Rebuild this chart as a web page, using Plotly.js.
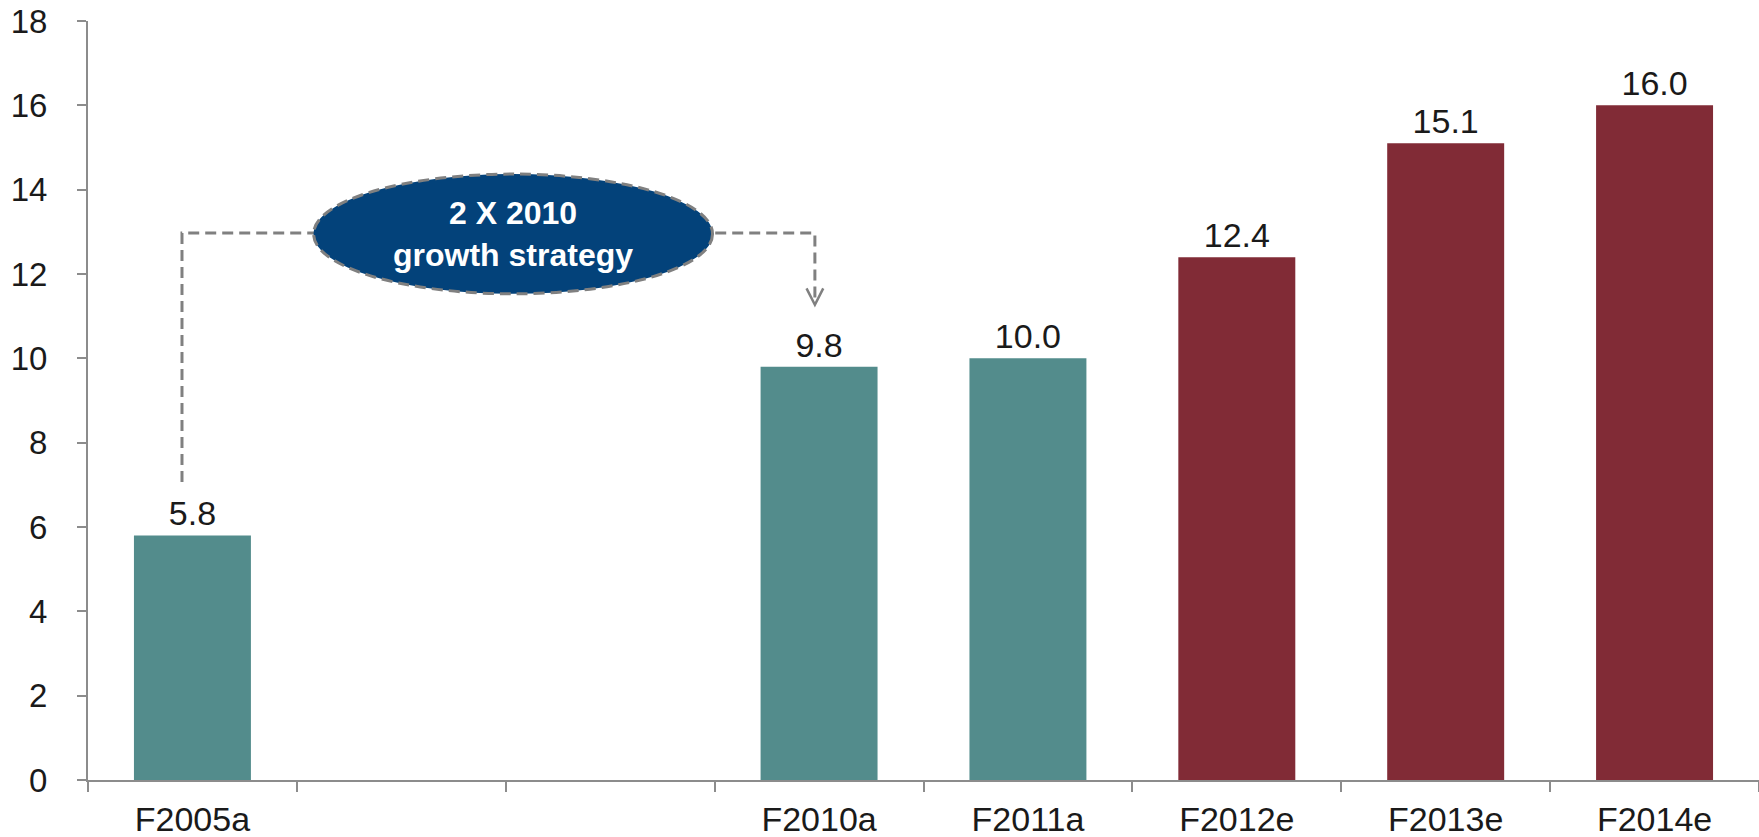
<!DOCTYPE html>
<html>
<head>
<meta charset="utf-8">
<script src="https://cdn.plot.ly/plotly-3.0.1.min.js"></script>
<style>
  html, body { margin: 0; padding: 0; background: #fff; }
  #chart { width: 1759px; height: 837px; }
</style>
</head>
<body>
<div id="chart"></div>
<script>
// categories (two blank slots between 2005 and 2010)
const categories = ['F2005a', ' ', '  ', 'F2010a', 'F2011a', 'F2012e', 'F2013e', 'F2014e'];

// actuals
const actualCats = ['F2005a', 'F2010a', 'F2011a'];
const actualVals = [5.8, 9.8, 10.0];

// estimates
const estimateCats = ['F2012e', 'F2013e', 'F2014e'];
const estimateVals = [12.4, 15.1, 16.0];

const calloutText = '<b>2 X 2010</b><br><b>growth strategy</b>';

const font = 'Arial, "Liberation Sans", sans-serif';
const axisGray = '#8c8c8c';

const actualTrace = {
    type: 'bar',
    x: actualCats,
    y: actualVals,
    marker: { color: '#538c8c' },
    text: actualVals.map(v => v.toFixed(1)),
    textposition: 'outside',
    textfont: { family: font, size: 34, color: '#1a1a1a' },
    cliponaxis: false,
    hoverinfo: 'x+y'
};

const estimateTrace = {
    type: 'bar',
    x: estimateCats,
    y: estimateVals,
    marker: { color: '#812b36' },
    text: estimateVals.map(v => v.toFixed(1)),
    textposition: 'outside',
    textfont: { family: font, size: 34, color: '#1a1a1a' },
    cliponaxis: false,
    hoverinfo: 'x+y'
};

// callout: dashed connector + ellipse + open arrow
const dash = { color: '#808080', width: 3, dash: '11px,6px' };
const shapes = [
    {
        type: 'path', xref: 'x', yref: 'y', layer: 'above',
        path: 'M -0.05,7.07 L -0.05,12.97 L 2.98,12.97 L 2.98,11.3',
        line: dash
    },
    {
        type: 'path', xref: 'x', yref: 'y', layer: 'above',
        path: 'M 2.94,11.66 L 2.98,11.27 L 3.02,11.66',
        line: { color: '#808080', width: 2.5 }
    },
    {
        type: 'circle', xref: 'x', yref: 'y', layer: 'above',
        x0: 0.58, x1: 2.49, y0: 11.53, y1: 14.37,
        fillcolor: '#03427a',
        line: dash
    }
];

const layout = {
    width: 1759,
    height: 837,
    margin: { l: 88, r: 0, t: 21, b: 57 },
    paper_bgcolor: '#fff',
    plot_bgcolor: '#fff',
    showlegend: false,
    barmode: 'overlay',
    bargap: 0.44,
    font: { family: font, color: '#1a1a1a' },
    xaxis: {
        type: 'category',
        categoryorder: 'array',
        categoryarray: categories,
        range: [-0.5, 7.5],
        showline: true,
        linecolor: axisGray,
        linewidth: 2,
        ticks: 'outside',
        tickson: 'boundaries',
        ticklen: 10,
        tickwidth: 2,
        tickcolor: axisGray,
        ticklabelstandoff: 8,
        tickfont: { family: font, size: 34, color: '#1a1a1a' },
        showgrid: false,
        zeroline: false
    },
    yaxis: {
        range: [0, 18],
        dtick: 2,
        showline: true,
        linecolor: axisGray,
        linewidth: 2,
        ticks: 'outside',
        ticklen: 9,
        tickwidth: 2,
        tickcolor: axisGray,
        ticklabelstandoff: 23,
        tickfont: { family: font, size: 33, color: '#1a1a1a' },
        showgrid: false,
        zeroline: false
    },
    shapes: shapes,
    annotations: [{
        x: 1.535, y: 12.95, xref: 'x', yref: 'y',
        text: calloutText,
        showarrow: false,
        font: { family: font, size: 32, color: '#ffffff' },
        align: 'center'
    }]
};

Plotly.newPlot('chart', [actualTrace, estimateTrace], layout, { displayModeBar: false });
</script>
</body>
</html>
